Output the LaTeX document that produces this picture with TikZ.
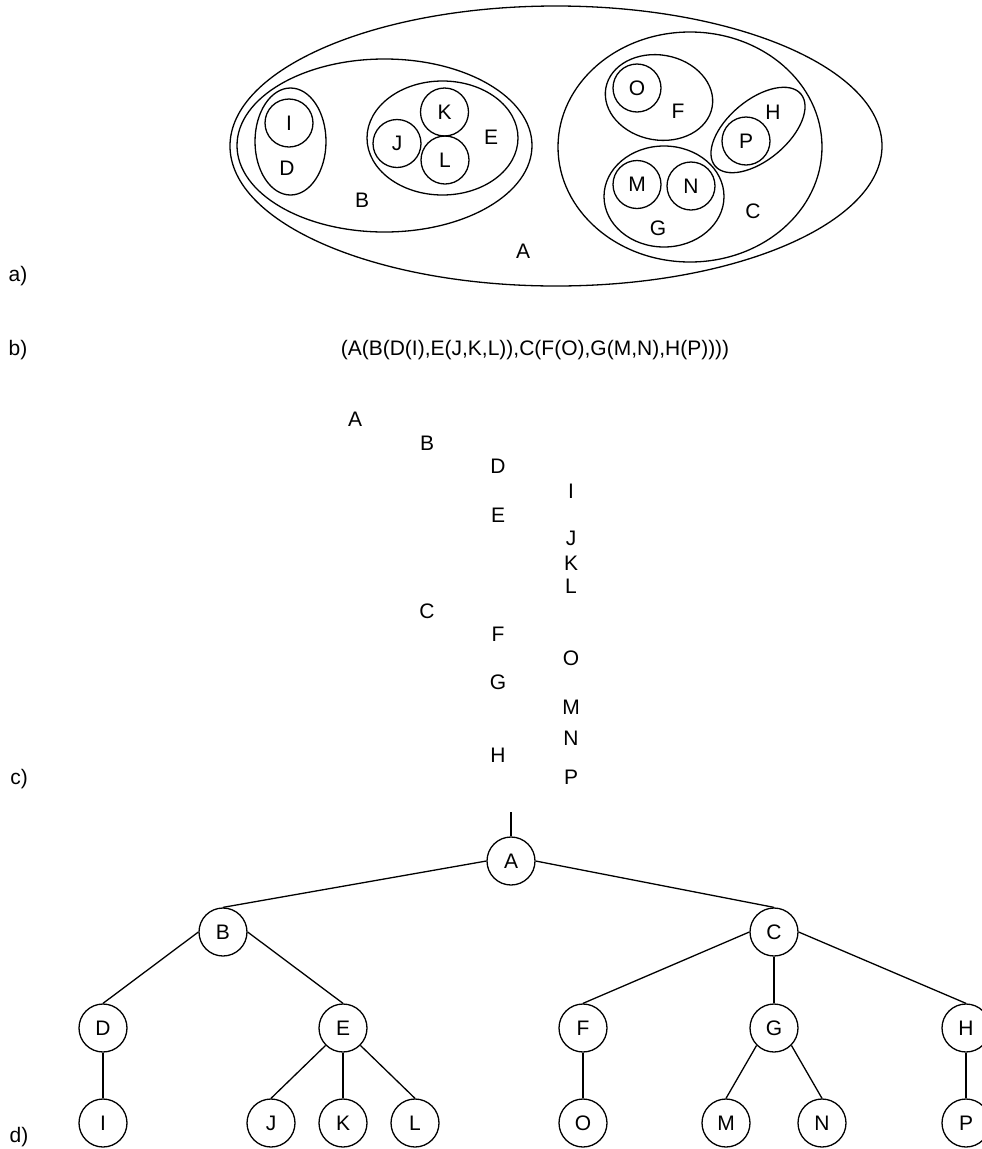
\documentclass[tikz,border=0pt]{standalone}
\usepackage{fontspec}
\setmainfont{Liberation Sans}
\usetikzlibrary{positioning}

\begin{document}
\begin{tikzpicture}[
  x=1pt, y=-1pt,
  every node/.style={font=\fontsize{21}{25}\selectfont, inner sep=0pt},
  elem/.style  ={draw, circle, line width=1.3pt, minimum size=48pt},
  vtx/.style   ={draw, circle, line width=1.3pt, minimum size=48pt},
  region/.style={line width=1.3pt},
  link/.style  ={line width=1.3pt}
]
\useasboundingbox (0,0) rectangle (982,1149);

%% ---- Part labels ---------------------------------------------------
\node (la) at (18,276)  {a)};
\node (lb) at (18,350)  {b)};
\node (lc) at (19,779)  {c)};
\node (ld) at (19,1137) {d)};

%% ---- a) nested sets ------------------------------------------------
\draw[region] (556,146) ellipse [x radius=326, y radius=140];
\draw[region] (384.5,145.5) ellipse [x radius=147.5, y radius=86.5];
\draw[region] (290.5,141.5) ellipse [x radius=35.5, y radius=53.5];
\draw[region] (442.5,138) ellipse [x radius=75.5, y radius=57];
\draw[region] (690,147) ellipse [x radius=132, y radius=115];
\draw[region, rotate around={-10:(659,97.5)}]
      (659,97.5) ellipse [x radius=54, y radius=42.5];
\draw[region, rotate around={40:(758,130)}]
      (758,130) ellipse [x radius=56, y radius=30];
\draw[region] (664,196.5) ellipse [x radius=60, y radius=50.5];

% leaves
\node[elem] (sI) at (289,123)   {I};
\node[elem] (sK) at (444.5,112) {K};
\node[elem] (sJ) at (397,143.5) {J};
\node[elem] (sL) at (445,160)   {L};
\node[elem] (sO) at (637,88)    {O};
\node[elem] (sP) at (746,141)   {P};
\node[elem] (sM) at (637,184.5) {M};
\node[elem] (sN) at (691,186)   {N};

% set names
\node (nA) at (523,251) {A};
\node (nB) at (362,200) {B};
\node (nC) at (753,211) {C};
\node (nD) at (287,168) {D};
\node (nE) at (491,137) {E};
\node (nF) at (678,111) {F};
\node (nG) at (658,228) {G};
\node (nH) at (773,112) {H};

%% ---- b) bracket notation -------------------------------------------
\node (paren) at (535,350) {(A(B(D(I),E(J,K,L)),C(F(O),G(M,N),H(P))))};

%% ---- c) indentation ------------------------------------------------
\node (cA) at (355,419) {A};
\node (cB) at (427,443) {B};
\node (cD) at (498,466) {D};
\node (cI) at (571,491) {I};
\node (cE) at (498,515) {E};
\node (cJ) at (571,538) {J};
\node (cK) at (571,563) {K};
\node (cL) at (571,586) {L};
\node (cC) at (427,611) {C};
\node (cF) at (498,634) {F};
\node (cO) at (571,658) {O};
\node (cG) at (498,682) {G};
\node (cM) at (571,707) {M};
\node (cN) at (571,738) {N};
\node (cH) at (498,755) {H};
\node (cP) at (571,777) {P};

%% ---- d) tree -------------------------------------------------------
\coordinate (top) at (511,812);
\node[vtx] (tA) at (511,861)  {A};
\node[vtx] (tB) at (223,932)  {B};
\node[vtx] (tC) at (774,932)  {C};
\node[vtx] (tD) at (103,1028) {D};
\node[vtx] (tE) at (343,1028) {E};
\node[vtx] (tF) at (583,1028) {F};
\node[vtx] (tG) at (774,1028) {G};
\node[vtx] (tH) at (966,1028) {H};
\node[vtx] (tI) at (103,1123) {I};
\node[vtx] (tJ) at (271,1123) {J};
\node[vtx] (tK) at (343,1123) {K};
\node[vtx] (tL) at (415,1123) {L};
\node[vtx] (tO) at (583,1123) {O};
\node[vtx] (tM) at (726,1123) {M};
\node[vtx] (tN) at (822,1123) {N};
\node[vtx] (tP) at (966,1123) {P};

\draw[link] (top) -- (tA.north);
\draw[link] (tA.west) -- (tB.north);
\draw[link] (tA.east) -- (tC.north);
\draw[link] (tB.west) -- (tD.north);
\draw[link] (tB.east) -- (tE.north);
\draw[link] (tC.west) -- (tF.north);
\draw[link] (tC.south) -- (tG.north);
\draw[link] (tC.east) -- (tH.north);
\draw[link] (tD.south) -- (tI.north);
\draw[link] (tE.south west) -- (tJ.north);
\draw[link] (tE.south) -- (tK.north);
\draw[link] (tE.south east) -- (tL.north);
\draw[link] (tF.south) -- (tO.north);
\draw[link] (tG.south west) -- (tM.north);
\draw[link] (tG.south east) -- (tN.north);
\draw[link] (tH.south) -- (tP.north);

\end{tikzpicture}
\end{document}
